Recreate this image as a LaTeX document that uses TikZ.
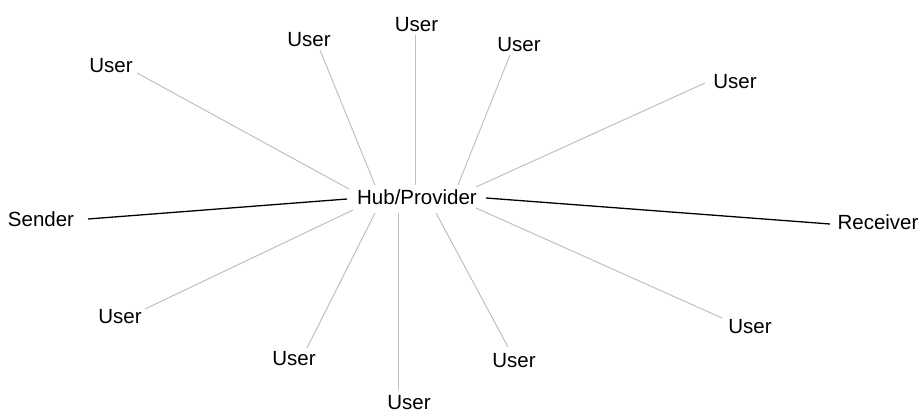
\documentclass[tikz,border=0pt]{standalone}
\usepackage{fontspec}
\setmainfont{Liberation Sans}
\begin{document}
\begin{tikzpicture}[x=1pt,y=-1pt,
  lbl/.style={inner sep=0pt,anchor=base,font=\fontsize{20.5}{24}\selectfont},
  spoke/.style={draw={rgb,255:red,192;green,192;blue,192},line width=1pt},
  path/.style={draw=black,line width=1.3pt}]
\useasboundingbox[fill=white] (0,0) rectangle (924,414);

% hub and the two endpoints of the delivery path
\node[lbl] (hub) at (417,205) {Hub/Provider};
\node[lbl] (snd) at (41,227) {Sender};
\node[lbl] (rcv) at (878,230) {Receiver};

% users around the hub
\node[lbl] (u1)  at (111,73)  {User};
\node[lbl] (u2)  at (309,47)  {User};
\node[lbl] (u3)  at (416.5,32) {User};
\node[lbl] (u4)  at (519,52)  {User};
\node[lbl] (u5)  at (735,89)  {User};
\node[lbl] (u6)  at (120,323) {User};
\node[lbl] (u7)  at (294,365) {User};
\node[lbl] (u8)  at (409,409.5) {User};
\node[lbl] (u9)  at (514,367) {User};
\node[lbl] (u10) at (750,333) {User};

% spoke ends near the users
\coordinate (e1)  at (137,73);
\coordinate (e2)  at (320,50);
\coordinate (e3)  at (415,35);
\coordinate (e4)  at (510,55);
\coordinate (e5)  at (705,83);
\coordinate (e6)  at (145,309);
\coordinate (e7)  at (307,348);
\coordinate (e8)  at (398,390);
\coordinate (e9)  at (508,347);
\coordinate (e10) at (722,318);

% spoke ends around the hub
\coordinate (h1)  at (349,189);
\coordinate (h2)  at (375,185);
\coordinate (h3)  at (415,185);
\coordinate (h4)  at (458,185);
\coordinate (h5)  at (476,187);
\coordinate (h6)  at (353,210);
\coordinate (h7)  at (375,213);
\coordinate (h8)  at (398,213);
\coordinate (h9)  at (436,213);
\coordinate (h10) at (476,208);

\foreach \i in {1,...,10} \draw[spoke] (e\i) -- (h\i);

% sender -> hub -> receiver
\coordinate (sA) at (88,219);
\coordinate (sB) at (347,199);
\coordinate (rA) at (486,198);
\coordinate (rB) at (830,224);
\draw[path] (sA) -- (sB);
\draw[path] (rA) -- (rB);
\end{tikzpicture}
\end{document}
